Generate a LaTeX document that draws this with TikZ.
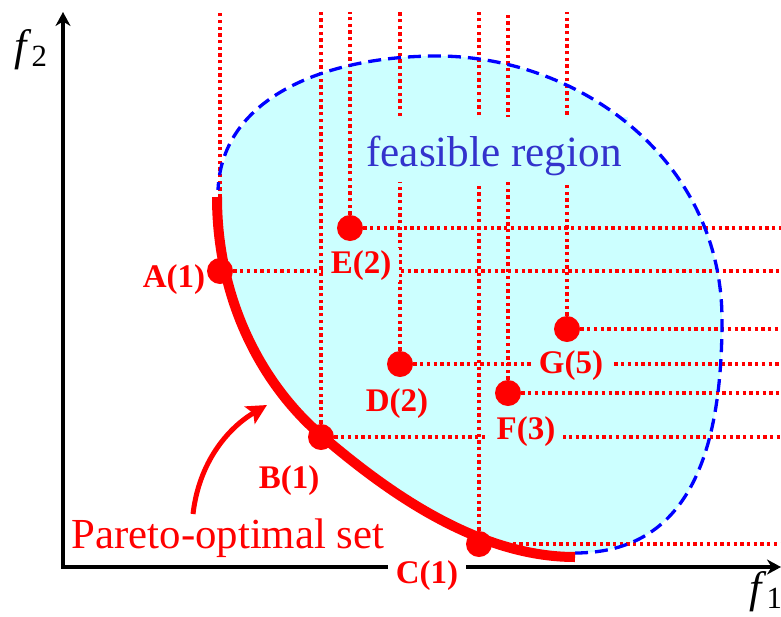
\documentclass[tikz,border=0pt]{standalone}
\usepackage{fontspec}
\setmainfont{Liberation Serif}
\usetikzlibrary{arrows.meta, positioning, calc}

\definecolor{regioncyan}{HTML}{CCFFFF}
\definecolor{regiontext}{HTML}{3333CC}

\begin{document}
\begin{tikzpicture}[x=0.5pt, y=-0.5pt,
    >={Stealth[length=7pt, width=7.5pt]},
    axis/.style={line width=2pt, <->},
    guide/.style={red, line width=1.65pt, dash pattern=on 1.65pt off 1.7pt},
    rim/.style={blue, line width=1.65pt, dash pattern=on 6.5pt off 3.5pt},
    front/.style={red, line width=5pt},
    dot/.style={circle, fill=red, minimum size=13pt, inner sep=0pt},
    tag/.style={text=red, font=\fontsize{16.5}{19}\selectfont\bfseries, anchor=base, inner xsep=4pt, inner ysep=1pt},
    gaptag/.style={tag, fill=regioncyan}]

    \useasboundingbox (0,0) rectangle (781,616);

    % feasible region
    \fill[regioncyan] (217,197) .. controls (217,300) and (262,385) .. (322,436)
        .. controls (383,488) and (475,557) .. (575,557) -- (575,553)
        .. controls (690,553) and (722,450) .. (722,320)
        .. controls (722,160) and (580,56) .. (437,56)
        .. controls (330,56) and (222,95) .. (218,197) -- cycle;

    % solutions
    \coordinate (A) at (220,271);
    \coordinate (B) at (321,437);
    \coordinate (C) at (479,544);
    \coordinate (D) at (400,364);
    \coordinate (E) at (350,228);
    \coordinate (F) at (508,393);
    \coordinate (G) at (567,329);
    \coordinate (top) at (0,12);
    \coordinate (right) at (781,0);

    \foreach \p in {A,B,C,D,E,F,G} {
        \draw[guide] (\p) -- (\p |- top);
        \draw[guide] (\p) -- (\p -| right);
    }

    % axes
    \coordinate (ytip) at (63,12);
    \coordinate (xtip) at (781,567);
    \draw[axis] (ytip) |- (xtip);

    \node[gaptag] (labE) at (361,273) {E(2)};
    \node[gaptag] (labG) at (571,373) {G(5)};
    \node[gaptag] (labF) at (526,439) {F(3)};
    \node[tag, fill=white] (labC) at (427,583) {C(1)};

    \node[fill=regioncyan, text=regiontext, font=\fontsize{21.6}{24}\selectfont, anchor=base,
          inner xsep=3pt, inner ysep=0pt, text height=24.5pt, text depth=8pt] (feas) at (494,166) {feasible region};

    \draw[rim] (575,553) .. controls (690,553) and (722,450) .. (722,320)
        .. controls (722,160) and (580,56) .. (437,56)
        .. controls (330,56) and (222,95) .. (218,190);

    % pareto front
    \draw[front] (217,197) .. controls (217,300) and (262,385) .. (322,436)
        .. controls (383,488) and (475,557) .. (575,557);

    \foreach \p in {A,B,C,D,E,F,G}
        \node[dot] (dot\p) at (\p) {};

    \node[tag] (labA) at (174,287) {A(1)};
    \node[tag] (labB) at (289,488) {B(1)};
    \node[tag] (labD) at (397,411) {D(2)};

    \node[text=red, font=\fontsize{21.4}{24}\selectfont, anchor=base] (pareto) at (228,548) {Pareto-optimal set};
    \coordinate (pstart) at (193,514);
    \coordinate (pend) at (267,405);
    \draw[red, line width=2.5pt, -{Stealth[length=10pt, width=10pt, inset=2pt]}] (pstart) .. controls (199,462) and (228,428) .. (pend);

    \node[font=\fontsize{22}{24}\selectfont, anchor=base west, inner sep=0pt] (f2) at (14,60) {\textit{f}\textsubscript{2}};
    \node[font=\fontsize{22}{24}\selectfont, anchor=base west, inner sep=0pt] (f1) at (749,602) {\textit{f}\textsubscript{1}};
\end{tikzpicture}
\end{document}
